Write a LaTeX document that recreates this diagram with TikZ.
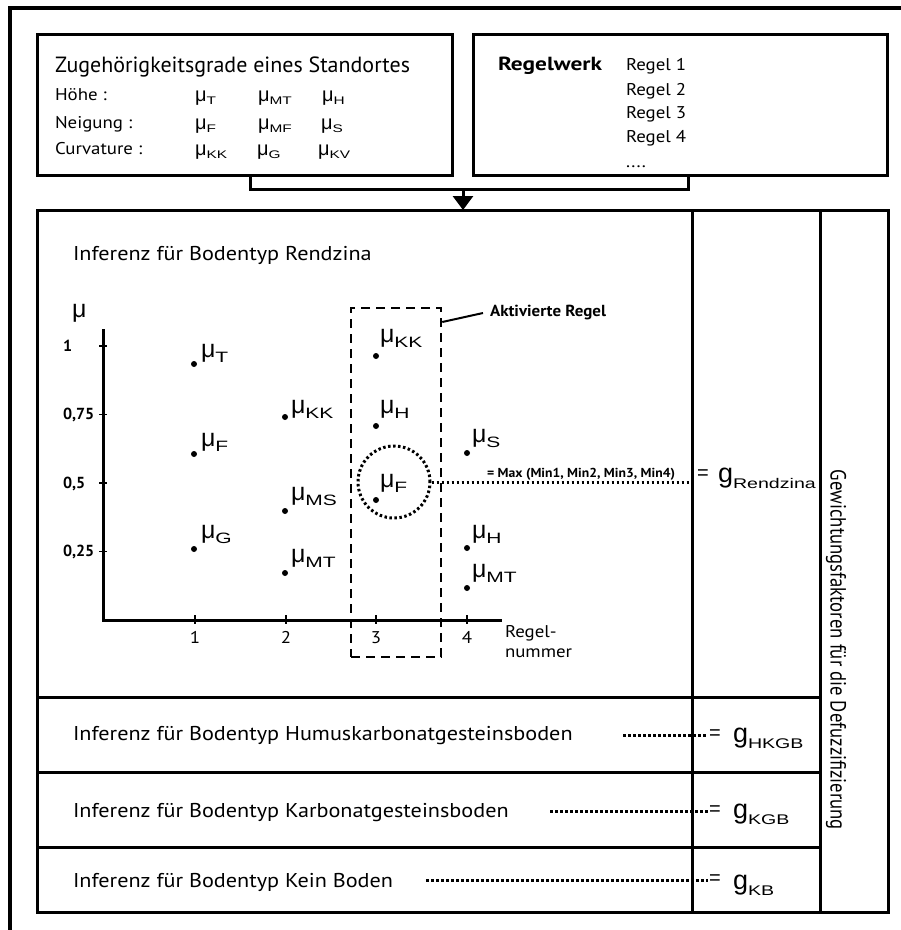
\documentclass[tikz,border=0pt]{standalone}
\usepackage{fontspec}
\usepackage{graphicx}
\setmainfont{PT Sans}
\newfontfamily\arialf{Liberation Sans}
\newfontfamily\subf[FakeStretch=1.4]{Liberation Sans}
\usetikzlibrary{arrows.meta}

\newcommand\setfs[1]{\fontsize{#1}{#1}\selectfont}
% slightly wider setting of the body text
\newcommand\wide[1]{\scalebox{1.11}[1]{#1}}
% membership degree in the chart, in the header box, and weighting factor
\newcommand\chartmu[1]{{\arialf\setfs{25}μ\raisebox{-5pt}{\subf\setfs{15}#1}}}
\newcommand\boxmu[1]{{\arialf\setfs{20}μ\raisebox{-3pt}{\subf\setfs{11}#1}}}
\newcommand\gval[1]{{\arialf\setfs{27}g\raisebox{-6pt}{\subf\setfs{14}#1}}}

\begin{document}
\begin{tikzpicture}[x=1pt,y=-1pt,
  boxn/.style={draw, line width=3pt, rectangle, inner sep=0pt, outer sep=0pt},
  rule/.style={line width=3pt},
  txt/.style={anchor=base west, inner sep=0pt, outer sep=0pt},
  dotpt/.style={circle, fill, inner sep=0pt, minimum size=6pt},
  dotline/.style={line width=3pt, dash pattern=on 2.5pt off 2.5pt},
  dashbox/.style={draw, line width=2.6pt, dash pattern=on 9pt off 6pt, inner sep=0pt},
  tick/.style={line width=1.5pt}]
\useasboundingbox (0,0) rectangle (901,930);

% outer frame
\draw[line width=3.5pt] (10,930) -- (10,8) -- (901,8);

% input boxes
\node[boxn, minimum width=415pt, minimum height=141pt] (std) at (244.5,104.5) {};
\node[boxn, minimum width=414pt, minimum height=141pt] (rw) at (680,104.5) {};

\node[txt] at (55,72) {\resizebox{355pt}{\height}{\setfs{22}Zugehörigkeitsgrade eines Standortes}};
\node[txt] at (55,100) {\wide{\setfs{17}Höhe :}};
\node[txt] at (55,128) {\wide{\setfs{17}Neigung :}};
\node[txt] at (55,154) {\wide{\setfs{17}Curvature :}};
\node[txt] at (195,101) {\boxmu{T}};
\node[txt] at (258,101) {\boxmu{MT}};
\node[txt] at (322,101) {\boxmu{H}};
\node[txt] at (195,129) {\boxmu{F}};
\node[txt] at (258,129) {\boxmu{MF}};
\node[txt] at (321,129) {\boxmu{S}};
\node[txt] at (195,155) {\boxmu{KK}};
\node[txt] at (257,155) {\boxmu{G}};
\node[txt] at (318,155) {\boxmu{KV}};

\node[txt] at (498,70) {\resizebox{104pt}{\height}{\bfseries\setfs{19}Regelwerk}};
\node[txt] at (626,70) {\wide{\setfs{17}Regel 1}};
\node[txt] at (626,95) {\wide{\setfs{17}Regel 2}};
\node[txt] at (626,118) {\wide{\setfs{17}Regel 3}};
\node[txt] at (626,142) {\wide{\setfs{17}Regel 4}};
\node[txt] at (626,167) {\wide{\setfs{17}....}};

% main inference block
\node[boxn, minimum width=851pt, minimum height=702pt] (main) at (462.5,561) {};

% both inputs feed the inference block
\coordinate (join) at (463,189);
\draw[rule] (std.south -| 250,0) |- (join) -| (rw.south -| 688,0);
\draw[rule, -{Triangle[width=20pt,length=14pt]}] (join) -- (main.north -| join);

% columns and rows
\draw[rule] (main.north -| 692,0) -- (main.south -| 692,0);
\draw[rule] (main.north -| 820,0) -- (main.south -| 820,0);
\draw[rule] (main.west |- 0,697) -- (820,697);
\draw[rule] (main.west |- 0,772) -- (820,772);
\draw[rule] (main.west |- 0,847) -- (820,847);

\node[txt] at (73,260) {\wide{\setfs{20}Inferenz für Bodentyp Rendzina}};
\node[txt] at (73,740) {\wide{\setfs{20}Inferenz für Bodentyp Humuskarbonatgesteinsboden}};
\node[txt] at (73,817) {\wide{\setfs{20}Inferenz für Bodentyp Karbonatgesteinsboden}};
\node[txt] at (73,887) {\wide{\setfs{20}Inferenz für Bodentyp Kein Boden}};

% chart axes
\coordinate (O) at (103,620);
\coordinate (ytop) at (103,329);
\coordinate (xend) at (502,620);
\draw[rule] (ytop) -- (O) -- (xend);
\node[txt] at (72,317) {\arialf\setfs{25}μ};
\foreach \y/\t in {346/1, 414.5/{0,75}, 483/{0,5}, 551.5/{0,25}} {
  \draw[tick] (99,\y) -- (107,\y);
  \node[txt] at (63,\y+5) {\bfseries\setfs{16}\t};
}
\foreach \x/\n in {195/1, 286/2, 376/3, 467/4} {
  \draw[tick] (\x,615) -- (\x,624);
  \node[anchor=base, inner sep=0pt] at (\x,643) {\wide{\setfs{17}\n}};
}
\node[txt] at (505,637) {\wide{\setfs{17}Regel-}};
\node[txt] at (505,657) {\wide{\setfs{17}nummer}};

% membership degrees per rule
\foreach \n/\dx/\dy/\lx/\ly/\s in {
  a/194/364/201/357/T, b/194/454/201/446/F, c/194/549/201/538/G,
  d/285/417/291/413/KK, e/285/511/291/500/MS, f/285/573/291/562/MT,
  g/376/356/380/342/KK, h/376/426/380/413/H, i/376/500/380/487/F,
  j/467/453/472/442/S, k/467/548/472/538/H, l/467/588/472/577/MT} {
  \node[dotpt] (pt\n) at (\dx,\dy) {};
  \node[txt] (lb\n) at (\lx,\ly) {\chartmu{\s}};
}

% activated rule
\node[dashbox, minimum width=90pt, minimum height=349pt] (act) at (396,482.5) {};
\node[txt] (akt) at (490,316) {\resizebox{116pt}{\height}{\bfseries\setfs{16}Aktivierte Regel}};
\draw[line width=2pt] (act.east |- 0,322) -- ([xshift=-7pt,yshift=3pt]akt.base west);

\node[circle, draw, dotline, minimum size=72pt, inner sep=0pt] (circ) at (394,482) {};
\node[txt] at (487,477) {\resizebox{188pt}{\height}{\bfseries\setfs{13}= Max (Min1, Min2, Min3, Min4)}};

% weighting factors
\node[inner sep=1pt] (eqR) at (703,475) {\arialf\setfs{20}=};
\node[txt] at (718,482) {\gval{Rendzina}};
\draw[dotline] (circ.east) -- (circ.east -| eqR.west);

\node[inner sep=1pt] (eqH) at (715,735) {\arialf\setfs{20}=};
\node[txt] at (733,742) {\gval{HKGB}};
\coordinate (sH) at (623,735);
\draw[dotline] (sH) -- (sH -| eqH.west);

\node[inner sep=1pt] (eqK) at (715,811) {\arialf\setfs{20}=};
\node[txt] at (733,818) {\gval{KGB}};
\coordinate (sK) at (550,811);
\draw[dotline] (sK) -- (sK -| eqK.west);

\node[inner sep=1pt] (eqB) at (715,880) {\arialf\setfs{20}=};
\node[txt] at (733,889) {\gval{KB}};
\coordinate (sB) at (426,880);
\draw[dotline] (sB) -- (sB -| eqB.west);

\node[rotate=-90, inner sep=0pt] at (836,650) {\resizebox{360pt}{\height}{\setfs{22}Gewichtungsfaktoren für die Defuzzifizierung}};
\end{tikzpicture}
\end{document}
